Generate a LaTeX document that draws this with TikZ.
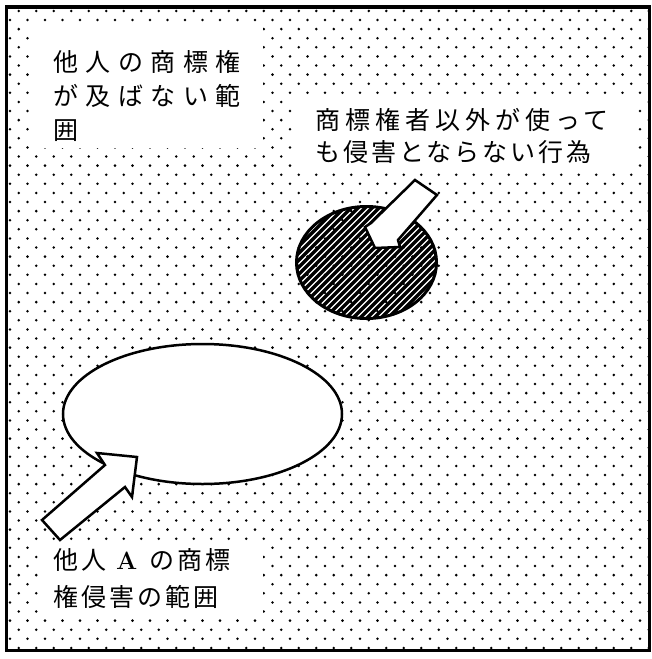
\documentclass[tikz,border=0pt]{standalone}
\usepackage{fontspec}
\newfontfamily\jpwide[LetterSpace=30]{Noto Sans CJK JP}
\newfontfamily\jpmid[LetterSpace=20]{Noto Sans CJK JP}
\newfontfamily\jpnarrow[LetterSpace=12]{Noto Sans CJK JP}
\usetikzlibrary{shapes.geometric}

\tikzset{
  label/.style={anchor=north west,inner sep=0pt,align=left},
  whitebox/.style={fill=white},
  blockarrow/.style={draw,fill=white,line width=2.5pt,line join=miter},
  hatchline/.style={line width=3.4pt}
}

\begin{document}
\begin{tikzpicture}[x=1pt,y=-1pt]
  \useasboundingbox (0,0) rectangle (652,659);

  % dotted ground
  \begin{scope}
    \clip (8,9) rectangle (648,649);
    \foreach \i [evaluate=\i as \off using {8.75*mod(\i+1,2)}] in {0,...,70}
      \foreach \j in {0,...,37}
        \fill (10+\off+17.5*\j,10.9+9.1*\i) circle [radius=1.4];
  \end{scope}

  % white boxes under the texts
  \fill[whitebox] (33,27) rectangle (263,148);
  \fill[whitebox] (295,96) rectangle (633,173);
  \fill[whitebox] (40,543) rectangle (263,617);

  \node[label,font=\fontsize{25pt}{34pt}\selectfont] (oyobanai) at (53,50)
    {\jpwide 他人の商標権\\\jpwide が及ばない範\\\jpwide 囲};
  \node[label,font=\fontsize{25pt}{32pt}\selectfont] (koui) at (315,108)
    {\jpmid 商標権者以外が使って\\\jpnarrow も侵害とならない行為};
  \node[label,font=\fontsize{25pt}{37pt}\selectfont] (shingai) at (53,548)
    {\jpnarrow 他人\hspace{10pt}{\normalfont\bfseries A}\hspace{12pt}の商標\\\jpnarrow 権侵害の範囲};

  % the two regions
  \node[ellipse,draw,fill=white,line width=2.5pt,minimum width=279pt,minimum height=140pt]
    (hani) at (202.5,414) {};
  \node[ellipse,draw,line width=3pt,minimum width=140pt,minimum height=112pt,
    path picture={
      \foreach \k in {-25,...,25}
        \draw[hatchline] ([xshift=\k*7pt-80pt,yshift=-80pt]path picture bounding box.center) -- ++(160,-160);
    }] (reigai) at (366.5,262.5) {};

  % block arrows
  \draw[blockarrow] (415,180) -- (437,195) -- (398,240) -- (400,247) -- (375,248)
    -- (365,227) -- (371,223) -- cycle;
  \draw[blockarrow] (42,520) -- (105,465) -- (97,453) -- (137,457) -- (132,497)
    -- (125,487) -- (60,540) -- cycle;

  % frame
  \draw[line width=3.5pt] (6.7,7) rectangle (649.5,650.5);
\end{tikzpicture}
\end{document}
